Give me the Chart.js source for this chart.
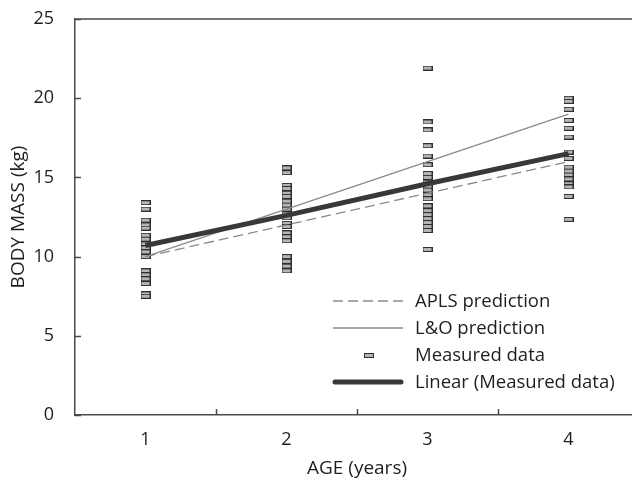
<!DOCTYPE html>
<html>
<head>
<meta charset="utf-8">
<script src="https://cdn.jsdelivr.net/npm/chart.js@4.4.0/dist/chart.umd.min.js"></script>
<style>
  html, body { margin: 0; padding: 0; background: #fff; overflow: hidden; }
  #wrap { width: 645px; height: 482px; }
</style>
</head>
<body>
<div id="wrap"><canvas id="massChart" width="645" height="482"></canvas></div>
<script>
const ages = [1, 2, 3, 4];
const yTicks = [0, 5, 10, 15, 20, 25];

// predicted body mass per age (kg)
const aplsPrediction = [10, 12, 14, 16];
const loPrediction = [10, 13, 16, 19];
const linearFit = [10.7, 12.6, 14.6, 16.5];

// measured body mass per child, grouped by age
const massAge1 = [13.4, 13.0, 12.3, 12.0, 11.8, 11.35, 11.1, 10.8, 10.55, 10.3, 10.0, 9.1, 8.85, 8.6, 8.3, 7.65, 7.5];
const massAge2 = [15.6, 15.3, 14.5, 14.3, 14.0, 13.8, 13.5, 13.25, 13.0, 12.7, 12.45, 12.1, 11.9, 11.5, 11.25, 11.0, 10.0, 9.7, 9.4, 9.1];
const massAge3 = [21.9, 18.5, 18.0, 17.0, 16.35, 15.8, 15.25, 15.0, 14.7, 14.45, 14.2, 13.9, 13.65, 13.2, 12.9, 12.65, 12.4, 12.15, 11.9, 11.65, 10.45];
const massAge4 = [20.0, 19.8, 19.3, 18.6, 18.1, 17.55, 16.6, 16.2, 15.65, 15.4, 15.15, 14.9, 14.6, 14.4, 13.8, 12.35];

const FONT = '"Open Sans", "Liberation Sans", sans-serif';
const AXIS = '#4a4a4a';
const TEXT = '#1e1e1e';

// small flat rectangle used as the point marker
function makeMarker() {
    const c = document.createElement('canvas');
    c.width = 10;
    c.height = 5;
    const g = c.getContext('2d');
    g.fillStyle = '#b4b4b4';
    g.fillRect(0, 0, 10, 5);
    g.strokeStyle = '#2e2e2e';
    g.lineWidth = 1;
    g.strokeRect(0.5, 0.5, 9, 4);
    return c;
}
const marker = makeMarker();

const measured = [];
[massAge1, massAge2, massAge3, massAge4].forEach((list, i) => {
    list.forEach(v => measured.push({ x: ages[i], y: v }));
});
const toPoints = arr => arr.map((v, i) => ({ x: ages[i], y: v }));

const legendItems = [
    { label: 'APLS prediction', type: 'dash' },
    { label: 'L&O prediction', type: 'thin' },
    { label: 'Measured data', type: 'marker' },
    { label: 'Linear (Measured data)', type: 'thick' }
];

// inside ticks, top border and the in-plot legend
const decorations = {
    id: 'decorations',
    afterDraw(chart) {
        const { ctx, chartArea, scales } = chart;
        const x = scales.x, y = scales.y;
        ctx.save();
        ctx.strokeStyle = AXIS;
        ctx.lineWidth = 1.5;
        ctx.beginPath();
        ctx.moveTo(chartArea.left, chartArea.top);
        ctx.lineTo(chartArea.right + 4, chartArea.top);
        yTicks.forEach(v => {
            const py = Math.round(y.getPixelForValue(v)) + 0.5;
            ctx.moveTo(chartArea.left, py);
            ctx.lineTo(chartArea.left + 6, py);
        });
        for (let i = 0; i < ages.length - 1; i++) {
            const px = Math.round((x.getPixelForValue(ages[i]) + x.getPixelForValue(ages[i + 1])) / 2) + 0.5;
            ctx.moveTo(px, chartArea.bottom);
            ctx.lineTo(px, chartArea.bottom - 6);
        }
        ctx.stroke();

        const x0 = 333, x1 = 403, tx = 415;
        ctx.font = '18.5px ' + FONT;
        ctx.textBaseline = 'middle';
        ctx.fillStyle = TEXT;
        legendItems.forEach((item, i) => {
            const ly = 301 + i * 27;
            ctx.beginPath();
            ctx.setLineDash([]);
            if (item.type === 'dash') {
                ctx.strokeStyle = '#8a8a8a';
                ctx.lineWidth = 1.3;
                ctx.setLineDash([10, 5]);
                ctx.moveTo(x0, ly); ctx.lineTo(x1, ly); ctx.stroke();
            } else if (item.type === 'thin') {
                ctx.strokeStyle = '#8a8a8a';
                ctx.lineWidth = 1.3;
                ctx.moveTo(x0, ly); ctx.lineTo(x1, ly); ctx.stroke();
            } else if (item.type === 'marker') {
                ctx.drawImage(marker, Math.round((x0 + x1) / 2) - 4, Math.round(ly) - 2);
            } else {
                ctx.strokeStyle = '#383838';
                ctx.lineWidth = 5;
                ctx.lineCap = 'round';
                ctx.moveTo(x0 + 2, ly); ctx.lineTo(x1 - 2, ly); ctx.stroke();
                ctx.lineCap = 'butt';
            }
            ctx.setLineDash([]);
            ctx.fillText(item.label, tx, ly + 1);
        });
        ctx.restore();
    }
};

const ctx = document.getElementById('massChart').getContext('2d');
new Chart(ctx, {
    type: 'scatter',
    data: {
        datasets: [{
            label: 'Linear (Measured data)',
            data: toPoints(linearFit),
            showLine: true,
            borderColor: '#383838',
            borderWidth: 5,
            pointRadius: 0,
            order: 1
        }, {
            label: 'L&O prediction',
            data: toPoints(loPrediction),
            showLine: true,
            borderColor: '#8a8a8a',
            borderWidth: 1.3,
            pointRadius: 0,
            order: 2
        }, {
            label: 'APLS prediction',
            data: toPoints(aplsPrediction),
            showLine: true,
            borderColor: '#8a8a8a',
            borderWidth: 1.3,
            borderDash: [10, 5],
            pointRadius: 0,
            order: 3
        }, {
            label: 'Measured data',
            data: measured,
            pointStyle: marker,
            pointRadius: 5,
            order: 4
        }]
    },
    options: {
        responsive: false,
        animation: false,
        layout: { padding: { top: 19, right: 2, bottom: 2, left: 7 } },
        plugins: {
            legend: { display: false },
            tooltip: { enabled: false }
        },
        scales: {
            x: {
                type: 'linear',
                min: 0.5,
                max: 4.5,
                afterBuildTicks: axis => { axis.ticks = ages.map(v => ({ value: v })); },
                afterFit: axis => {
                    axis.height = 65;
                    axis.paddingLeft = 0;
                    axis.paddingRight = 0;
                },
                grid: { display: false, drawTicks: false },
                border: { color: AXIS, width: 1.5 },
                ticks: { color: TEXT, font: { family: FONT, size: 18 }, padding: 14 },
                title: {
                    display: true,
                    text: 'AGE (years)',
                    color: TEXT,
                    font: { family: FONT, size: 19 },
                    padding: { top: 6, bottom: 0 }
                }
            },
            y: {
                min: 0,
                max: 25,
                afterBuildTicks: axis => { axis.ticks = yTicks.map(v => ({ value: v })); },
                afterFit: axis => {
                    axis.width = 68;
                    axis.paddingTop = 0;
                    axis.paddingBottom = 0;
                },
                grid: { display: false, drawTicks: false },
                border: { color: AXIS, width: 1.5 },
                ticks: { color: TEXT, font: { family: FONT, size: 18 }, padding: 21 },
                title: {
                    display: true,
                    text: 'BODY MASS (kg)',
                    color: TEXT,
                    font: { family: FONT, size: 19 },
                    padding: { top: 0, bottom: 3 }
                }
            }
        }
    },
    plugins: [decorations]
});
</script>
</body>
</html>
